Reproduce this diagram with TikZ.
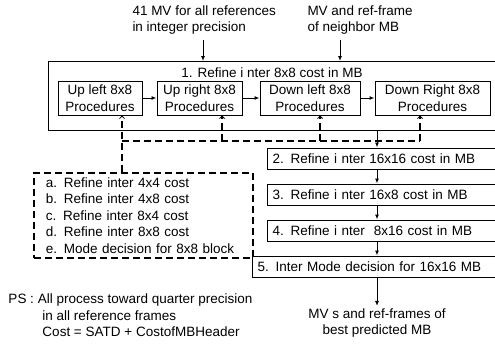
\documentclass[tikz,border=0pt]{standalone}
\usepackage{fontspec}
\setmainfont{Liberation Sans}
\usetikzlibrary{arrows.meta, positioning}

\begin{document}
\begin{tikzpicture}[x=1pt, y=-1pt, line width=1pt, font=\fontsize{13.5}{16.5}\selectfont,
  pbox/.style={draw, align=center, inner sep=0pt, minimum height=34pt},
  rbox/.style={draw, anchor=west, align=left, text width=240pt, inner xsep=5pt, inner ysep=0pt, minimum height=21pt},
  arr/.style={-{Latex[length=5pt,width=4pt]}},
  dsh/.style={line width=1.6pt, dash pattern=on 7pt off 4pt},
  dtip/.style={-{Straight Barb[length=2.5pt,width=5pt,line width=0.8pt]}}]
\useasboundingbox (0,0) rectangle (495,343);
% inputs
\node[anchor=west, align=left, inner sep=0pt] (in1) at (132,20) {41 MV for all references\\in integer precision};
\node[anchor=west, align=left, inner sep=0pt] (in2) at (307,20) {MV and ref-frame\\of neighbor MB};
\coordinate (a1) at (203,40);
\coordinate (a2) at (340,40);
% step 1
\node[draw, anchor=north west, minimum width=480pt, minimum height=69pt, inner sep=0pt] (R1) at (48,61) {};
\node (t1) at (272,73) {1. Refine i nter 8x8 cost in MB};
\draw[arr] (a1) -- (a1 |- R1.north);
\draw[arr] (a2) -- (a2 |- R1.north);
\node[pbox, minimum width=84pt] (UL) at (100,98) {Up left 8x8\\Procedures};
\node[pbox, minimum width=85pt] (UR) at (199.5,98) {Up right 8x8\\Procedures};
\node[pbox, minimum width=100pt] (DL) at (310,98) {Down left 8x8\\Procedures};
\node[pbox, minimum width=115pt] (DR) at (432.5,98) {Down Right 8x8\\Procedures};
\draw[arr] (UL) -- (UR);
\draw[arr] (UR) -- (DL);
\draw[arr] (DL) -- (DR);
% 8x8 sub steps
\node[draw, dsh, anchor=north west, minimum width=219pt, minimum height=85pt, text width=195pt, align=left, inner xsep=12pt] (SUB) at (33,172)
  {a. Refine inter 4x4 cost\\b. Refine inter 4x8 cost\\c. Refine inter 8x4 cost\\d. Refine inter 8x8 cost\\e. Mode decision for 8x8 block};
\coordinate (j0) at (122,141);
\coordinate (j1) at (222,141);
\coordinate (j2) at (320,141);
\coordinate (j3) at (420,141);
\draw[dsh, dtip] (SUB.north -| j0) -- (UL.south -| j0);
\draw[dsh] (j0) -- (j3);
\draw[dsh, dtip] (j1) -- (UR.south -| j1);
\draw[dsh, dtip] (j2) -- (DL.south -| j2);
\draw[dsh, dtip] (j3) -- (DR.south -| j3);
% steps 2-5
\coordinate (c) at (377,0);
\node[rbox] (R2) at (267,158.5) {2. Refine i nter 16x16 cost in MB};
\node[rbox] (R3) at (267,194.5) {3. Refine i nter 16x8 cost in MB};
\node[rbox] (R4) at (267,230.5) {4. Refine i nter~ 8x16 cost in MB};
\node[rbox, text width=255pt] (R5) at (252,266.5) {5. Inter Mode decision for 16x16 MB};
\draw[arr] (R1.south -| c) -- (R2.north -| c);
\draw[arr] (R2.south -| c) -- (R3.north -| c);
\draw[arr] (R3.south -| c) -- (R4.north -| c);
\draw[arr] (R4.south -| c) -- (R5.north -| c);
\node[align=center, inner sep=0pt] (out) at (377,323) {MV s and ref-frames of\\best predicted MB};
\draw[arr] (R5.south -| c) -- ([yshift=2pt]out.north -| c);
% note
\node[anchor=west, align=left, inner sep=0pt] (ps) at (8,315.5) {PS : All process toward quarter precision\\\hspace*{34pt}in all reference frames\\\hspace*{34pt}Cost = SATD + CostofMBHeader};
\end{tikzpicture}
\end{document}
